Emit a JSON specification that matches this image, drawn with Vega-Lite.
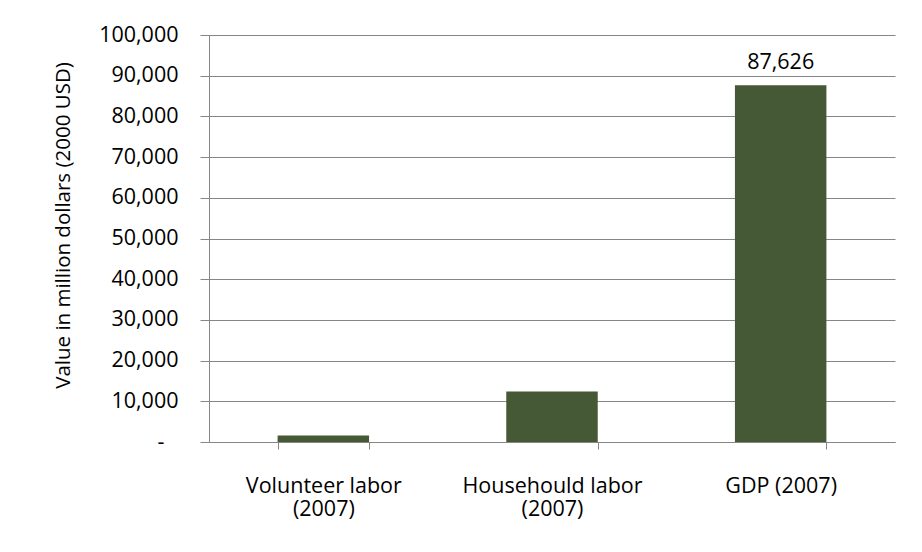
{
  "$schema": "https://vega.github.io/schema/vega-lite/v6.json",
  "autosize": "none",
  "width": 686,
  "height": 407,
  "padding": {"left": 209, "top": 35, "right": 27, "bottom": 110},
  "background": "white",
  "config": {
    "font": "Open Sans",
    "view": {"stroke": null},
    "axis": {
      "labelFont": "Open Sans",
      "titleFont": "Open Sans",
      "labelColor": "#000000",
      "titleColor": "#000000",
      "domainColor": "#868686",
      "tickColor": "#868686",
      "gridColor": "#868686",
      "labelFontWeight": "normal",
      "titleFontWeight": "normal"
    }
  },
  "data": {
    "values": [
      {"category": "Volunteer labor (2007)", "value": 1600},
      {"category": "Househould labor (2007)", "value": 12400},
      {"category": "GDP (2007)", "value": 87626}
    ]
  },
  "encoding": {
    "x": {
      "field": "category",
      "type": "nominal",
      "sort": null,
      "scale": {"paddingInner": 0.6, "paddingOuter": 0.3},
      "axis": {
        "title": null,
        "labelAngle": 0,
        "labelFontSize": 21.5,
        "labelLineHeight": 23,
        "labelPadding": 26,
        "labelLimit": 400,
        "tickSize": 7,
        "tickBand": "extent",
        "labelExpr": "length(datum.label) > 12 ? [slice(datum.label, 0, indexof(datum.label, ' (')), slice(datum.label, indexof(datum.label, ' (') + 1)] : datum.label"
      }
    },
    "y": {
      "field": "value",
      "type": "quantitative",
      "scale": {"domain": [0, 100000], "nice": false},
      "axis": {
        "title": "Value in million dollars (2000 USD)",
        "values": [0, 10000, 20000, 30000, 40000, 50000, 60000, 70000, 80000, 90000, 100000],
        "labelExpr": "datum.value == 0 ? '-' : format(datum.value, ',')",
        "labelFontSize": 21.5,
        "titleFontSize": 20.5,
        "tickSize": 9,
        "labelPadding": {"condition": {"test": "datum.value === 0", "value": 36}, "value": 22},
        "grid": true,
        "titleAngle": 270,
        "titleAlign": "center",
        "titleBaseline": "alphabetic",
        "titleX": -140,
        "titleY": 190
      }
    }
  },
  "layer": [
    {
      "mark": {"type": "bar", "color": "#465937"}
    },
    {
      "transform": [{"filter": "datum.category == 'GDP (2007)'"}],
      "mark": {"type": "text", "fontSize": 21.5, "baseline": "alphabetic", "dy": -16, "color": "#000000"},
      "encoding": {
        "text": {"field": "value", "type": "quantitative", "format": ","}
      }
    }
  ]
}
